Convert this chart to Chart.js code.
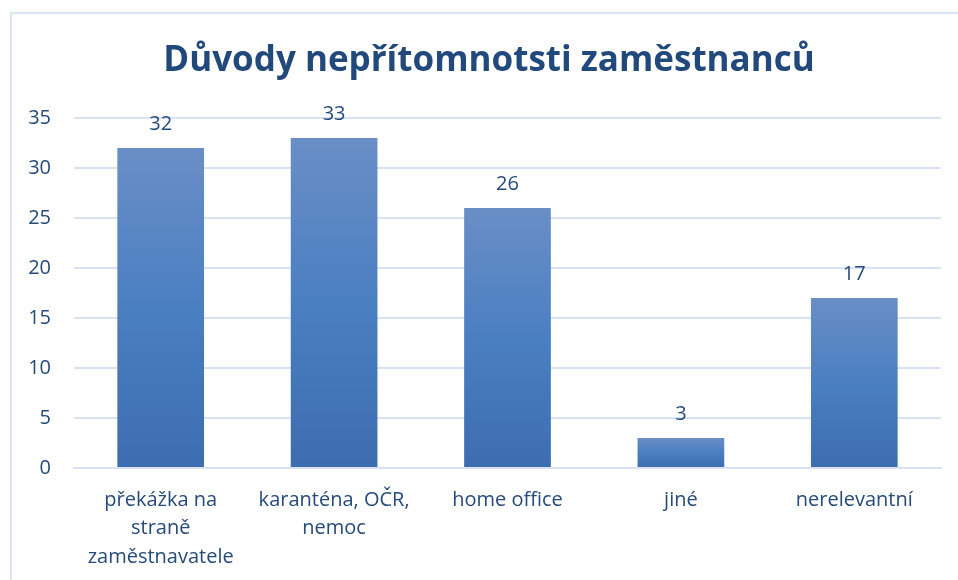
<!DOCTYPE html>
<html>
<head>
<meta charset="utf-8">
<script src="https://cdn.jsdelivr.net/npm/chart.js@4/dist/chart.umd.min.js"></script>
<style>
  html, body { margin: 0; padding: 0; background: #ffffff; overflow: hidden; }
  #wrap { position: relative; width: 958px; height: 580px; }
  #frame { position: absolute; left: 10px; top: 12px; width: 980px; height: 600px; border: 2px solid #dae3f3; box-sizing: border-box; pointer-events: none; }
  canvas { position: absolute; left: 0; top: 0; }
</style>
</head>
<body>
<div id="wrap">
  <canvas id="c" width="958" height="580"></canvas>
  <div id="frame"></div>
</div>
<script>
const chartTitle = 'Důvody nepřítomnotsti zaměstnanců';
const categories = [
  ['překážka na', 'straně', 'zaměstnavatele'],
  ['karanténa, OČR,', 'nemoc'],
  'home office',
  'jiné',
  'nerelevantní'
];
const values = [32, 33, 26, 3, 17];
const yTicks = [0, 5, 10, 15, 20, 25, 30, 35];

const textColor = '#264a7c';
const fontFamily = "'Open Sans', 'Noto Sans', sans-serif";

const dataLabels = {
  id: 'dataLabels',
  afterDatasetsDraw(chart) {
    const ctx = chart.ctx;
    const meta = chart.getDatasetMeta(0);
    ctx.save();
    ctx.fillStyle = textColor;
    ctx.font = '20px ' + fontFamily;
    ctx.textAlign = 'center';
    ctx.textBaseline = 'alphabetic';
    meta.data.forEach((bar, i) => {
      ctx.fillText(String(values[i]), bar.x, bar.y - 18);
    });
    ctx.restore();
  }
};

// Excel centres the title over the whole chart frame (which starts at x=10),
// so nudge the title block's left edge to match.
const titleShift = {
  id: 'titleShift',
  afterLayout(chart) {
    const t = chart.titleBlock;
    if (t) { t.left += 17; t.width -= 17; }
  }
};

new Chart(document.getElementById('c'), {
  type: 'bar',
  data: {
    labels: categories,
    datasets: [{
      data: values,
      backgroundColor(context) {
        const chart = context.chart;
        const area = chart.chartArea;
        const ys = chart.scales.y;
        if (!area || !ys || context.parsed === undefined) return '#4A7EC2';
        const top = ys.getPixelForValue(context.parsed.y);
        const bottom = ys.getPixelForValue(0);
        if (!isFinite(top) || !isFinite(bottom) || top === bottom) return '#4A7EC2';
        const g = chart.ctx.createLinearGradient(0, top, 0, bottom);
        g.addColorStop(0, '#6A8EC6');
        g.addColorStop(0.5, '#4A7FC2');
        g.addColorStop(1, '#3C6DB0');
        return g;
      },
      borderWidth: 0,
      categoryPercentage: 0.5,
      barPercentage: 1.0
    }]
  },
  options: {
    responsive: false,
    animation: false,
    layout: { padding: { left: 20, right: 17, top: 0, bottom: 0 } },
    plugins: {
      legend: { display: false },
      tooltip: { enabled: false },
      title: {
        display: true,
        text: chartTitle,
        color: '#21497c',
        font: { family: fontFamily, size: 35, weight: 'bold', lineHeight: 1.2 },
        padding: { top: 40, bottom: 36 }
      }
    },
    scales: {
      x: {
        grid: { display: false, drawTicks: false },
        border: { display: true, color: '#d9e2f3', width: 2 },
        ticks: {
          color: textColor,
          font: { family: fontFamily, size: 20, lineHeight: 1.42 },
          padding: 18,
          maxRotation: 0,
          autoSkip: false
        },
        afterFit(s) { s.height = 112; }
      },
      y: {
        min: 0,
        max: 35,
        afterBuildTicks(s) { s.ticks = yTicks.map(v => ({ value: v })); },
        grid: { color: '#d9e2f3', lineWidth: 2, drawTicks: false },
        border: { display: false },
        ticks: {
          color: textColor,
          font: { family: fontFamily, size: 20 },
          padding: 23
        },
        afterFit(s) { s.width = 54; }
      }
    }
  },
  plugins: [dataLabels, titleShift]
});
</script>
</body>
</html>
